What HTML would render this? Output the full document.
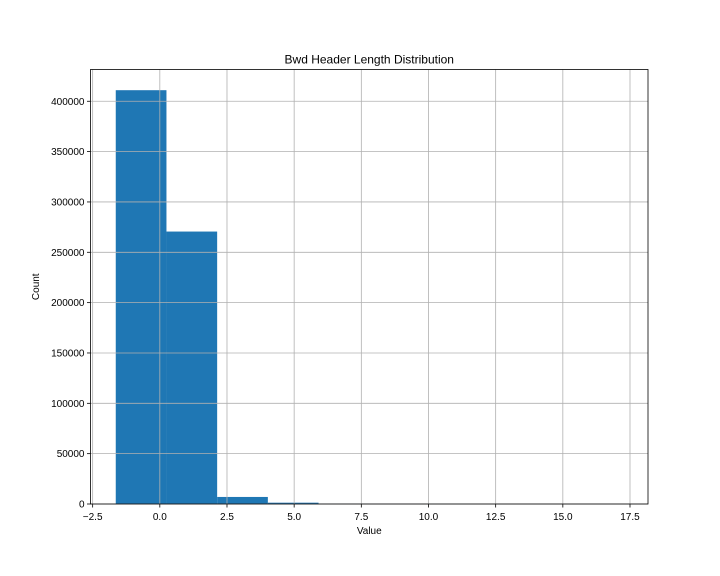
<!DOCTYPE html>
<html><head><meta charset="utf-8"><style>
body{margin:0;background:#fff;}
svg{display:block;font-family:"Liberation Sans","DejaVu Sans",sans-serif;}
</style></head><body>
<svg id="chart" width="720" height="576"></svg>
<script>
const binEdgesRange=[-1.64,17.23];
const counts=[411000,270600,7000,1300,300,100,50,20,10,5];
const xTicks=[-2.5,0.0,2.5,5.0,7.5,10.0,12.5,15.0,17.5];
const yTicks=[0,50000,100000,150000,200000,250000,300000,350000,400000];
const L=90.5,R=648,T=69.5,B=504;
const xMin=-2.58,xMax=18.17,yMax=431550;
const xs=v=>L+(v-xMin)/(xMax-xMin)*(R-L);
const ys=v=>B-v/yMax*(B-T);
const svg=document.getElementById('chart');
const NS='http://www.w3.org/2000/svg';
function mk(t,a,p){const e=document.createElementNS(NS,t);for(const k in a)e.setAttribute(k,a[k]);(p||svg).appendChild(e);return e;}
mk('rect',{x:0,y:0,width:720,height:576,fill:'#fff'});
const bw=(binEdgesRange[1]-binEdgesRange[0])/counts.length;
counts.forEach((c,i)=>{
  const x0=xs(binEdgesRange[0]+i*bw),x1=xs(binEdgesRange[0]+(i+1)*bw);
  const r=mk('rect',{x:x0,y:ys(c),width:x1-x0,height:B-ys(c),fill:'#1f77b4'});
  
  
});
xTicks.forEach(t=>{
  const x=xs(t);
  const g=mk('line',{x1:x,x2:x,y1:T,y2:B,stroke:'#b0b0b0','stroke-width':0.8});
  
  
  mk('line',{x1:x,x2:x,y1:B,y2:B+3.5,stroke:'#000','stroke-width':0.8});
  const tx=mk('text',{x:x,y:B+16,'font-size':10,'text-anchor':'middle',fill:'#000'});
  tx.textContent=(t<0?'\u2212':'')+Math.abs(t).toFixed(1);
  
  
});
yTicks.forEach(t=>{
  const y=ys(t);
  const g=mk('line',{x1:L,x2:R,y1:y,y2:y,stroke:'#b0b0b0','stroke-width':0.8});
  
  
  mk('line',{x1:L-3.5,x2:L,y1:y,y2:y,stroke:'#000','stroke-width':0.8});
  const tx=mk('text',{x:L-6,y:y+3.5,'font-size':10,'text-anchor':'end',fill:'#000'});
  tx.textContent=String(t);
  
  
});
const fr=mk('rect',{x:L,y:T,width:R-L,height:B-T,fill:'none',stroke:'#000','stroke-width':0.8});


const ti=mk('text',{x:(L+R)/2,y:T-6,'font-size':12,'text-anchor':'middle',fill:'#000'});
ti.textContent='Bwd Header Length Distribution';


const xl=mk('text',{x:(L+R)/2,y:B+30,'font-size':10,'text-anchor':'middle',fill:'#000'});
xl.textContent='Value';


const yl=mk('text',{x:0,y:0,'font-size':10,'text-anchor':'middle',fill:'#000',transform:'translate(39,'+((T+B)/2)+') rotate(-90)'});
yl.textContent='Count';


</script>
</body></html>
